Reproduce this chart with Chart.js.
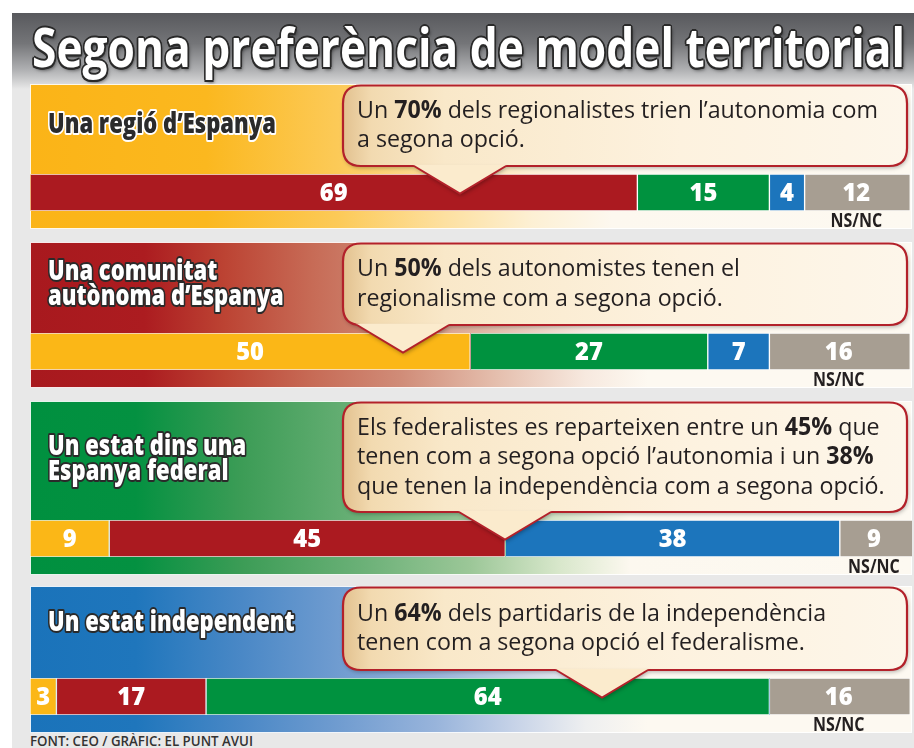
<!DOCTYPE html>
<html><head><meta charset="utf-8">
<script src="https://cdn.jsdelivr.net/npm/chart.js@4.4.0/dist/chart.umd.min.js"></script>
<style>
html,body{margin:0;padding:0;background:#fff;width:914px;height:748px;overflow:hidden;position:relative;}
#bg{position:absolute;left:12px;top:13px;width:902px;height:735px;background:#e8e8e8;}
#titlebar{position:absolute;left:12px;top:13px;width:902px;height:76px;background:linear-gradient(to bottom,#58595d 0%,#747578 40%,#b0b1b3 75%,#e8e8e8 100%);}
#title{position:absolute;left:32px;top:19px;white-space:nowrap;font:700 54px 'Open Sans',sans-serif;line-height:1;color:#fff;transform-origin:0 0;
text-shadow:-1.5px -1.5px 0 #2a2a2a,1.5px -1.5px 0 #2a2a2a,-1.5px 1.5px 0 #2a2a2a,1.5px 1.5px 0 #2a2a2a,0 2px 0 #2a2a2a,2px 0 0 #2a2a2a,0 -2px 0 #2a2a2a,-2px 0 0 #2a2a2a,2px 3px 4px rgba(0,0,0,.5);}
#footer{position:absolute;left:30px;top:733px;white-space:nowrap;font:600 15px 'Open Sans',sans-serif;line-height:1;color:#333;transform-origin:0 0;}
canvas{position:absolute;}
</style></head>
<body>
<div id="bg"></div>
<div id="titlebar"></div>
<div id="title">Segona preferència de model territorial</div>
<div id="footer">FONT: CEO / GRÀFIC: EL PUNT AVUI</div>
<script>
// ---- DATA ----
const categories = ["Una regió d’Espanya", "Una comunitat autònoma d’Espanya", "Un estat dins una Espanya federal", "Un estat independent"];
const seriesLabels = ["Regió", "Autonomia", "Federal", "Independència", "NS/NC"];
const regio =         [0, 50, 9, 3];
const autonomia =     [69, 0, 45, 17];
const federal =       [15, 27, 0, 64];
const independencia = [4, 7, 38, 0];
const nsnc =          [12, 16, 9, 16];
const panelTitles = [["Una regió d’Espanya"], ["Una comunitat", "autònoma d’Espanya"], ["Un estat dins una", "Espanya federal"], ["Un estat independent"]];
const calloutTexts = [
  ["Un **70%** dels regionalistes trien l’autonomia com", "a segona opció."],
  ["Un **50%** dels autonomistes tenen el", "regionalisme com a segona opció."],
  ["Els federalistes es reparteixen entre un **45%** que", "tenen com a segona opció l’autonomia i un **38%**", "que tenen la independència com a segona opció."],
  ["Un **64%** dels partidaris de la independència", "tenen com a segona opció el federalisme."]
];
const otherLabel = "NS/NC";

// ---- LAYOUT / STYLE ----
const LAYOUT = {
  left: 30, width: 882,
  tops: [84, 242, 401, 586],
  heights: [145, 146, 174, 147],
  titleY: [41, 42.5, 58.5, 37],
  pointerX: [430, 373, 475, 572],
  boxX0: 313, boxX1: 877,
  xMax: 100.2
};
const seriesColors = ["#fbb717", "#ab1a20", "#00923f", "#1c75bc", "#a79e92"];
const panelGradients = [
  [[0,'#fbb417'],[0.2,'#fbb81f'],[0.35,'#fcca58'],[0.47,'#fde0a0'],[0.57,'#fdf0d4'],[0.66,'#fdf8ef'],[1,'#fdf9f1']],
  [[0,'#a8191e'],[0.13,'#ac1c20'],[0.22,'#bc4333'],[0.32,'#c76b56'],[0.42,'#d08c78'],[0.53,'#e5bfae'],[0.63,'#f7e9df'],[0.7,'#fdf9f1'],[1,'#fdf9f1']],
  [[0,'#00903f'],[0.12,'#049141'],[0.24,'#3c9c56'],[0.38,'#6cb178'],[0.5,'#9cc798'],[0.6,'#d8e7cb'],[0.68,'#fcf8ef'],[1,'#fdf9f1']],
  [[0,'#1a73ba'],[0.12,'#1f76bc'],[0.24,'#4a88c6'],[0.35,'#709cd0'],[0.46,'#98b4db'],[0.55,'#c7d3e8'],[0.63,'#eeeff0'],[0.7,'#fdf9f1'],[1,'#fdf9f1']]
];
const FONT = '"Open Sans", "Noto Sans", sans-serif';

function fitEl(id, target) {
  const el = document.getElementById(id);
  const w = el.getBoundingClientRect().width;
  el.style.transform = 'scaleX(' + (target / w) + ')';
}
fitEl('title', 873);
fitEl('footer', 223);

const mctx = document.createElement('canvas').getContext('2d');
function richWidth(line, size) {
  let w = 0;
  line.split('**').forEach((p, k) => { mctx.font = (k % 2 ? '700 ' : '500 ') + size + 'px ' + FONT; w += mctx.measureText(p).width; });
  return w;
}
const CALLOUT_SIZE = 24.5;
const calloutSX = 521 / richWidth(calloutTexts[0][0], CALLOUT_SIZE);
const TITLE_SIZE = 28;
mctx.font = '800 ' + TITLE_SIZE + 'px ' + FONT;
const titleSX = 228 / mctx.measureText(panelTitles[0][0]).width;

function drawRich(ctx, line, x, y, size, sx) {
  ctx.save(); ctx.translate(x, y); ctx.scale(sx, 1);
  ctx.textBaseline = 'middle'; ctx.textAlign = 'left'; ctx.fillStyle = '#231f20';
  let cx = 0;
  line.split('**').forEach((p, k) => {
    ctx.font = (k % 2 ? '700 ' : '500 ') + size + 'px ' + FONT;
    ctx.fillText(p, cx, 0);
    cx += ctx.measureText(p).width;
  });
  ctx.restore();
}
function roundRect(ctx, x0, y0, x1, y1, r) {
  ctx.beginPath();
  ctx.moveTo(x0 + r, y0); ctx.lineTo(x1 - r, y0); ctx.quadraticCurveTo(x1, y0, x1, y0 + r);
  ctx.lineTo(x1, y1 - r); ctx.quadraticCurveTo(x1, y1, x1 - r, y1);
  ctx.lineTo(x0 + r, y1); ctx.quadraticCurveTo(x0, y1, x0, y1 - r);
  ctx.lineTo(x0, y0 + r); ctx.quadraticCurveTo(x0, y0, x0 + r, y0); ctx.closePath();
}

const panelPlugin = {
  id: 'panel',
  beforeDraw(chart) {
    const i = chart.options.plugins.panel.index;
    const ctx = chart.ctx, W = chart.width, H = chart.height;
    ctx.save();
    const g = ctx.createLinearGradient(0, 0, W, 0);
    panelGradients[i].forEach(s => g.addColorStop(s[0], s[1]));
    ctx.fillStyle = g; ctx.fillRect(0, 0, W, H);
    ctx.strokeStyle = 'rgba(255,255,255,0.9)'; ctx.lineWidth = 1; ctx.strokeRect(0.5, 0.5, W - 1, H - 1);
    // left title
    const lines = panelTitles[i];
    const lh = 25;
    const cy = LAYOUT.titleY[i] - (lines.length - 1) * lh / 2;
    ctx.font = '800 ' + TITLE_SIZE + 'px ' + FONT;
    ctx.textBaseline = 'middle'; ctx.textAlign = 'left'; ctx.lineJoin = 'round';
    lines.forEach((t, k) => {
      ctx.save(); ctx.translate(18, cy + k * lh); ctx.scale(titleSX, 1);
      ctx.lineWidth = 4;
      ctx.strokeStyle = i === 0 ? '#ffffff' : '#2a2a2a';
      ctx.strokeText(t, 0, 0);
      ctx.fillStyle = i === 0 ? '#2b2b2b' : '#ffffff';
      ctx.fillText(t, 0, 0);
      ctx.restore();
    });
    ctx.restore();
  },
  afterDatasetsDraw(chart) {
    const i = chart.options.plugins.panel.index;
    const ctx = chart.ctx;
    ctx.save();
    // value labels
    chart.data.datasets.forEach((ds, d) => {
      const v = ds.data[0];
      if (!v) return;
      const el = chart.getDatasetMeta(d).data[0];
      const p = el.getProps(['x', 'y', 'base', 'height'], true);
      const right = Math.min(p.x, chart.chartArea.right - 4);
      const cx = (right + p.base) / 2;
      ctx.save(); ctx.translate(cx, p.y + 1); ctx.scale(0.95, 1);
      ctx.font = '800 25px ' + FONT; ctx.fillStyle = '#fff'; ctx.textAlign = 'center'; ctx.textBaseline = 'middle';
      ctx.fillText(String(v), 0, 0);
      ctx.restore();
      if (d === 4) {
        ctx.save(); ctx.translate(cx, p.y + 29); ctx.scale(0.8, 1);
        ctx.font = '700 20px ' + FONT; ctx.fillStyle = '#231f20'; ctx.textAlign = 'center'; ctx.textBaseline = 'middle';
        ctx.fillText(otherLabel, 0, 0);
        ctx.restore();
      }
    });
    // callout
    const barTop = chart.chartArea.top, barMid = (chart.chartArea.top + chart.chartArea.bottom) / 2;
    const x0 = LAYOUT.boxX0, x1 = LAYOUT.boxX1, y0 = 1.5, y1 = barTop - 8;
    const fill = ctx.createLinearGradient(x0, 0, x1, 0);
    fill.addColorStop(0, '#e2c18f'); fill.addColorStop(0.05, '#f2dab0'); fill.addColorStop(0.18, '#f9e8c9');
    fill.addColorStop(0.6, '#fdf2df'); fill.addColorStop(1, '#fdf6ea');
    ctx.save();
    ctx.shadowColor = 'rgba(0,0,0,0.3)'; ctx.shadowBlur = 4; ctx.shadowOffsetX = 1; ctx.shadowOffsetY = 2;
    roundRect(ctx, x0, y0, x1, y1, 18);
    ctx.fillStyle = fill; ctx.fill();
    ctx.restore();
    roundRect(ctx, x0, y0, x1, y1, 18);
    ctx.strokeStyle = '#b3212a'; ctx.lineWidth = 2.2; ctx.stroke();
    // pointer
    const px = LAYOUT.pointerX[i], hw = 46, ty = barMid + 1;
    ctx.save();
    ctx.shadowColor = 'rgba(0,0,0,0.35)'; ctx.shadowBlur = 4; ctx.shadowOffsetX = 1; ctx.shadowOffsetY = 2;
    ctx.beginPath(); ctx.moveTo(px - hw, y1); ctx.lineTo(px, ty); ctx.lineTo(px + hw, y1); ctx.closePath();
    ctx.fillStyle = '#fbebcd'; ctx.fill();
    ctx.restore();
    ctx.beginPath(); ctx.moveTo(px - hw - 1, y1 - 1.2); ctx.lineTo(px + hw + 1, y1 - 1.2); ctx.lineTo(px, ty); ctx.closePath();
    ctx.fillStyle = '#fbebcd'; ctx.fill();
    ctx.beginPath(); ctx.moveTo(px - hw, y1); ctx.lineTo(px, ty); ctx.lineTo(px + hw, y1);
    ctx.strokeStyle = '#b3212a'; ctx.lineWidth = 2; ctx.stroke();
    // callout text
    const lines = calloutTexts[i], lh = 29.5;
    const cy = (y0 + y1) / 2 - (lines.length - 1) * lh / 2;
    lines.forEach((t, k) => drawRich(ctx, t, LAYOUT.boxX0 + 14, cy + k * lh, CALLOUT_SIZE, calloutSX));
    ctx.restore();
  }
};

const seriesData = [regio, autonomia, federal, independencia, nsnc];
categories.forEach((cat, i) => {
  const cv = document.createElement('canvas');
  cv.width = LAYOUT.width; cv.height = LAYOUT.heights[i];
  cv.style.left = LAYOUT.left + 'px'; cv.style.top = LAYOUT.tops[i] + 'px';
  cv.style.width = LAYOUT.width + 'px'; cv.style.height = LAYOUT.heights[i] + 'px';
  document.body.appendChild(cv);
  new Chart(cv, {
    type: 'bar',
    data: {
      labels: [cat],
      datasets: seriesLabels.map((lab, d) => ({
        label: lab,
        data: [seriesData[d][i]],
        backgroundColor: seriesColors[d],
        borderColor: 'rgba(255,255,255,0.85)',
        borderWidth: c => (c.raw > 0 ? 1 : 0),
        borderSkipped: false,
        barPercentage: 1, categoryPercentage: 1
      }))
    },
    options: {
      indexAxis: 'y', responsive: false, animation: false, devicePixelRatio: 1,
      layout: { padding: { top: LAYOUT.heights[i] - 55, bottom: 18, left: 0, right: 0 } },
      scales: {
        x: { stacked: true, min: 0, max: LAYOUT.xMax, display: false },
        y: { stacked: true, display: false }
      },
      plugins: { legend: { display: false }, tooltip: { enabled: false }, title: { display: false }, panel: { index: i } }
    },
    plugins: [panelPlugin]
  });
});
</script>
</body></html>
